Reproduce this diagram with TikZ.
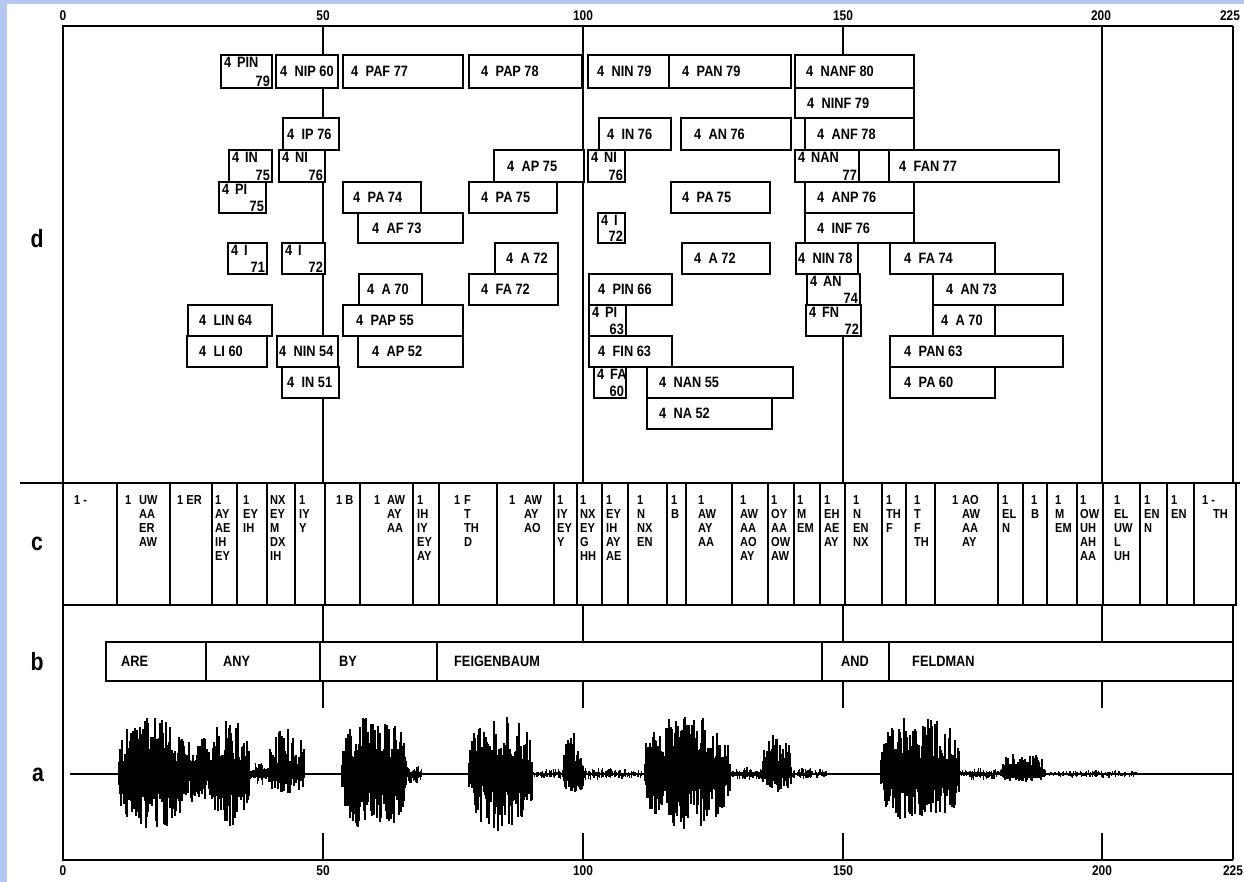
\documentclass[tikz,border=0pt]{standalone}
\usepackage{fontspec}
\newfontfamily\labfont[FakeStretch=0.85]{Liberation Sans}
\usetikzlibrary{fit}
\definecolor{bgblue}{RGB}{180,199,242}
\tikzset{
  gridthin/.style={line width=1.2pt},
  gridthick/.style={line width=1.9pt},
  dbx/.style={draw, line width=2.2pt, fill=white, inner sep=0pt},
  cbx/.style={draw, line width=2pt, fill=white, inner sep=0pt},
  bbx/.style={draw, line width=2pt, fill=white, inner sep=0pt},
  lbl/.style={font=\labfont\bfseries\fontsize{15}{16}\selectfont, inner sep=0pt},
  clbl/.style={font=\labfont\bfseries\fontsize{13}{14}\selectfont, inner sep=0pt, anchor=north west},
  axl/.style={font=\labfont\bfseries\fontsize{14}{14}\selectfont, inner sep=0pt},
  rowl/.style={font=\labfont\bfseries\fontsize{25}{25}\selectfont, inner sep=0pt},
  wave/.style={line width=1.1pt},
}
% single-line d box: name x1 x2 top bottom text offset
\newcommand\dbox[7]{%
  \node[dbx, fit={(#2,#4)(#3,#5)}] (#1) {};
  \node[lbl, anchor=west] (#1t) at ([xshift=#7pt]#1.west) {4\hspace{0.5em}#6};}
% two-line d box: name x1 x2 top bottom word number
\newcommand\dtwo[7]{%
  \node[dbx, fit={(#2,#4)(#3,#5)}] (#1) {};
  \node[lbl, anchor=north west] (#1t) at ([xshift=4pt,yshift=-3pt]#1.north west) {4\hspace{0.4em}#6};
  \node[lbl, anchor=south east] (#1n) at ([xshift=-3pt,yshift=2pt]#1.south east) {#7};}
% c cell, one column
\newcommand\ccell[5]{%
  \node[cbx, fit={(#2,483)(#3,605)}] (#1) {};
  \node[clbl] (#1t) at (#4,494) {\begin{tabular}{@{}l@{}}#5\end{tabular}};}
% c cell, two columns
\newcommand\ccellb[7]{%
  \node[cbx, fit={(#2,483)(#3,605)}] (#1) {};
  \node[clbl] (#1a) at (#4,494) {\begin{tabular}{@{}l@{}}#6\end{tabular}};
  \node[clbl] (#1b) at (#5,494) {\begin{tabular}{@{}l@{}}#7\end{tabular}};}
% waveform burst: x0 x1 up down step
\newcommand\burst[5]{%
  \pgfmathsetmacro\myW{#2-#1}%
  \pgfmathtruncatemacro\myN{\myW/#5}%
  \foreach \k in {0,...,\myN}{%
    \pgfmathsetmacro\myX{#1+\k*#5}%
    \pgfmathsetmacro\myE{sqrt(sqrt(abs(sin(180*\k/\myN))))}%
    \pgfmathsetmacro\myF{rnd<0.42 ? 0.6+0.4*rnd : 0.22+0.36*rnd}%
    \pgfmathsetmacro\myG{rnd<0.42 ? 0.6+0.4*rnd : 0.22+0.36*rnd}%
    \draw[wave] (\myX,{774-#3*\myE*\myF}) -- (\myX,{774+#4*\myE*\myG});
  }}
\begin{document}
\begin{tikzpicture}[x=1pt,y=-1pt]
\pgfmathsetseed{7}
\useasboundingbox (0,0) rectangle (1244,882);
\fill[white] (0,0) rectangle (1244,882);
\fill[bgblue] (0,0) rectangle (1244,4);
\fill[bgblue] (0,0) rectangle (7,882);

% axes and grid
\draw[line width=1.5pt] (62,26) -- (1233,26);
\draw[line width=1.5pt] (62,860) -- (1233,860);
\draw[gridthick] (63,26) -- (63,860);
\draw[gridthick] (1233,26) -- (1233,860);
\foreach \gx in {323,583,843}{
  \draw[gridthin] (\gx,26) -- (\gx,483);
  \draw[gridthin] (\gx,605) -- (\gx,708);
  \draw[gridthin] (\gx,833) -- (\gx,860);
}
\draw[gridthick] (1102,26) -- (1102,483);
\draw[gridthin] (1102,605) -- (1102,708);
\draw[gridthin] (1102,833) -- (1102,860);

% axis numbers
\node[axl] (t0) at (63,16) {0};
\node[axl] (t50) at (323,16) {50};
\node[axl] (t100) at (583,16) {100};
\node[axl] (t150) at (843,16) {150};
\node[axl] (t200) at (1101,16) {200};
\node[axl] (t225) at (1230,16) {225};
\node[axl] (u0) at (63,871) {0};
\node[axl] (u50) at (323,871) {50};
\node[axl] (u100) at (583,871) {100};
\node[axl] (u150) at (843,871) {150};
\node[axl] (u200) at (1102,871) {200};
\node[axl] (u225) at (1233,871) {225};

% row letters
\node[rowl] (ld) at (37,239) {d};
\node[rowl] (lc) at (37,544) {c};
\node[rowl] (lb) at (37,662) {b};
\node[rowl] (la) at (38,775) {a};

% ---- d boxes ----
% row 1
\dtwo{pinA}{221}{272}{55}{88}{PIN}{79}
\dbox{nipA}{276}{338}{55}{88}{NIP 60}{5}
\dbox{pafA}{343}{463}{55}{88}{PAF 77}{9}
\dbox{papA}{469}{582}{55}{88}{PAP 78}{13}
\dbox{ninA}{588}{669}{55}{88}{NIN 79}{10}
\dbox{panA}{669}{791}{55}{88}{PAN 79}{14}
\dbox{nanfA}{795}{914}{55}{88}{NANF 80}{12}
% row 2
\dbox{ninfA}{795}{914}{88}{118}{NINF 79}{13}
% row 3
\dbox{ipA}{283}{339}{118}{150}{IP 76}{5}
\dbox{inA}{599}{671}{118}{150}{IN 76}{9}
\dbox{anA}{681}{791}{118}{150}{AN 76}{14}
\dbox{anfA}{805}{914}{118}{150}{ANF 78}{13}
% row 4
\dtwo{inB}{229}{272}{150}{182}{IN}{75}
\dtwo{niA}{279}{325}{150}{182}{NI}{76}
\dbox{apA}{494}{584}{150}{182}{AP 75}{14}
\dtwo{niB}{588}{625}{150}{182}{NI}{76}
\dtwo{nanA}{795}{859}{150}{182}{NAN}{77}
\node[dbx, fit={(859,150)(889,182)}] (blank) {};
\dbox{fanA}{889}{1059}{150}{182}{FAN 77}{11}
% row 5
\dtwo{piA}{219}{266}{182}{213}{PI}{75}
\dbox{paA}{343}{421}{182}{213}{PA 74}{11}
\dbox{paB}{469}{557}{182}{213}{PA 75}{13}
\dbox{paC}{671}{770}{182}{213}{PA 75}{12}
\dbox{anpA}{805}{914}{182}{213}{ANP 76}{13}
% row 6
\dbox{afA}{358}{463}{213}{243}{AF 73}{15}
\dtwo{iA}{598}{625}{213}{243}{I}{72}
\dbox{infA}{805}{914}{213}{243}{INF 76}{13}
% row 7
\dtwo{iB}{228}{267}{243}{274}{I}{71}
\dtwo{iC}{282}{325}{243}{274}{I}{72}
\dbox{aA}{495}{558}{243}{274}{A 72}{12}
\dbox{aB}{682}{770}{243}{274}{A 72}{13}
\dbox{ninB}{796}{858}{243}{274}{NIN 78}{3}
\dbox{faA}{890}{995}{243}{274}{FA 74}{15}
% row 8
\dbox{aC}{359}{422}{274}{305}{A 70}{9}
\dbox{faB}{469}{558}{274}{305}{FA 72}{13}
\dbox{pinB}{589}{672}{274}{305}{PIN 66}{10}
\dtwo{anB}{807}{860}{274}{305}{AN}{74}
\dbox{anC}{933}{1063}{274}{305}{AN 73}{14}
% row 9
\dbox{linA}{188}{272}{305}{336}{LIN 64}{12}
\dbox{papB}{343}{463}{305}{336}{PAP 55}{14}
\dtwo{piB}{589}{626}{305}{336}{PI}{63}
\dtwo{fnA}{806}{861}{305}{336}{FN}{72}
\dbox{aD}{933}{995}{305}{336}{A 70}{9}
% row 10
\dbox{liA}{187}{267}{336}{367}{LI 60}{13}
\dbox{ninC}{277}{338}{336}{367}{NIN 54}{3}
\dbox{apB}{358}{463}{336}{367}{AP 52}{15}
\dbox{finA}{589}{672}{336}{367}{FIN 63}{10}
\dbox{panB}{890}{1063}{336}{367}{PAN 63}{15}
% row 11
\dbox{inC}{282}{339}{367}{398}{IN 51}{6}
\dtwo{faC}{594}{626}{367}{398}{FA}{60}
\dbox{nanB}{647}{793}{367}{398}{NAN 55}{13}
\dbox{paD}{890}{995}{367}{398}{PA 60}{15}
% row 12
\dbox{naA}{647}{772}{398}{429}{NA 52}{13}

% ---- c row ----
\draw[line width=2pt] (20,483) -- (1240,483);
\ccell{c1}{63}{117}{74}{1 -}
\ccellb{c2}{117}{170}{125}{139}{1}{UW\\AA\\ER\\AW}
\ccell{c3}{170}{212}{177}{1 ER}
\ccell{c4}{212}{237}{215}{1\\AY\\AE\\IH\\EY}
\ccell{c5}{237}{267}{243}{1\\EY\\IH}
\ccell{c6}{267}{295}{270}{NX\\EY\\M\\DX\\IH}
\ccell{c7}{295}{325}{299}{1\\IY\\Y}
\ccell{c8}{325}{360}{336}{1 B}
\ccellb{c9}{360}{413}{374}{387}{1}{AW\\AY\\AA}
\ccell{c10}{413}{439}{417}{1\\IH\\IY\\EY\\AY}
\ccellb{c11}{439}{497}{454}{464}{1}{F\\T\\TH\\D}
\ccellb{c12}{497}{554}{509}{524}{1}{AW\\AY\\AO}
\ccell{c13}{554}{577}{557}{1\\IY\\EY\\Y}
\ccell{c14}{577}{602}{580}{1\\NX\\EY\\G\\HH}
\ccell{c15}{602}{628}{606}{1\\EY\\IH\\AY\\AE}
\ccell{c16}{628}{667}{637}{1\\N\\NX\\EN}
\ccell{c17}{667}{686}{671}{1\\B}
\ccell{c18}{686}{732}{698}{1\\AW\\AY\\AA}
\ccell{c19}{732}{768}{740}{1\\AW\\AA\\AO\\AY}
\ccell{c20}{768}{794}{771}{1\\OY\\AA\\OW\\AW}
\ccell{c21}{794}{820}{797}{1\\M\\EM}
\ccell{c22}{820}{845}{824}{1\\EH\\AE\\AY}
\ccell{c23}{845}{882}{853}{1\\N\\EN\\NX}
\ccell{c24}{882}{906}{886}{1\\TH\\F}
\ccell{c25}{906}{935}{914}{1\\T\\F\\TH}
\ccellb{c26}{935}{998}{952}{962}{1}{AO\\AW\\AA\\AY}
\ccell{c27}{998}{1023}{1002}{1\\EL\\N}
\ccell{c28}{1023}{1047}{1031}{1\\B}
\ccell{c29}{1047}{1077}{1055}{1\\M\\EM}
\ccell{c30}{1077}{1103}{1080}{1\\OW\\UH\\AH\\AA}
\ccell{c31}{1103}{1140}{1114}{1\\EL\\UW\\L\\UH}
\ccell{c32}{1140}{1167}{1144}{1\\EN\\N}
\ccell{c33}{1167}{1194}{1171}{1\\EN}
\ccellb{c34}{1194}{1236}{1202}{1213}{1 -}{\\TH}

% ---- b row ----
\node[bbx, fit={(106,642)(206,681)}] (w1) {};
\node[lbl, anchor=west] (w1t) at (121,661.5) {ARE};
\node[bbx, fit={(206,642)(320,681)}] (w2) {};
\node[lbl, anchor=west] (w2t) at (223,661.5) {ANY};
\node[bbx, fit={(320,642)(437,681)}] (w3) {};
\node[lbl, anchor=west] (w3t) at (339,661.5) {BY};
\node[bbx, fit={(437,642)(822,681)}] (w4) {};
\node[lbl, anchor=west] (w4t) at (454,661.5) {FEIGENBAUM};
\node[bbx, fit={(822,642)(889,681)}] (w5) {};
\node[lbl, anchor=west] (w5t) at (841,661.5) {AND};
\node[bbx, fit={(889,642)(1233,681)}] (w6) {};
\node[lbl, anchor=west] (w6t) at (912,661.5) {FELDMAN};

% ---- a: waveform ----
\draw[line width=1.5pt] (70,774) -- (1233,774);
\burst{118}{186}{57}{56}{1}
\burst{176}{222}{38}{30}{1}
\burst{212}{250}{59}{54}{1}
\burst{248}{270}{12}{12}{1.2}
\burst{268}{305}{46}{20}{1}
\burst{341}{407}{59}{58}{1}
\burst{405}{424}{10}{10}{1.2}
\burst{468}{533}{59}{58}{1}
\burst{531}{647}{6}{6}{1.3}
\burst{563}{584}{42}{21}{1}
\burst{644}{731}{59}{56}{1}
\burst{729}{765}{7}{7}{1.2}
\burst{762}{792}{41}{18}{1}
\burst{790}{828}{6}{5}{1.2}
\burst{880}{960}{59}{54}{1}
\burst{958}{1002}{6}{6}{1.2}
\burst{1000}{1046}{22}{8}{1}
\burst{1044}{1140}{4}{4}{1.3}
\end{tikzpicture}
\end{document}
